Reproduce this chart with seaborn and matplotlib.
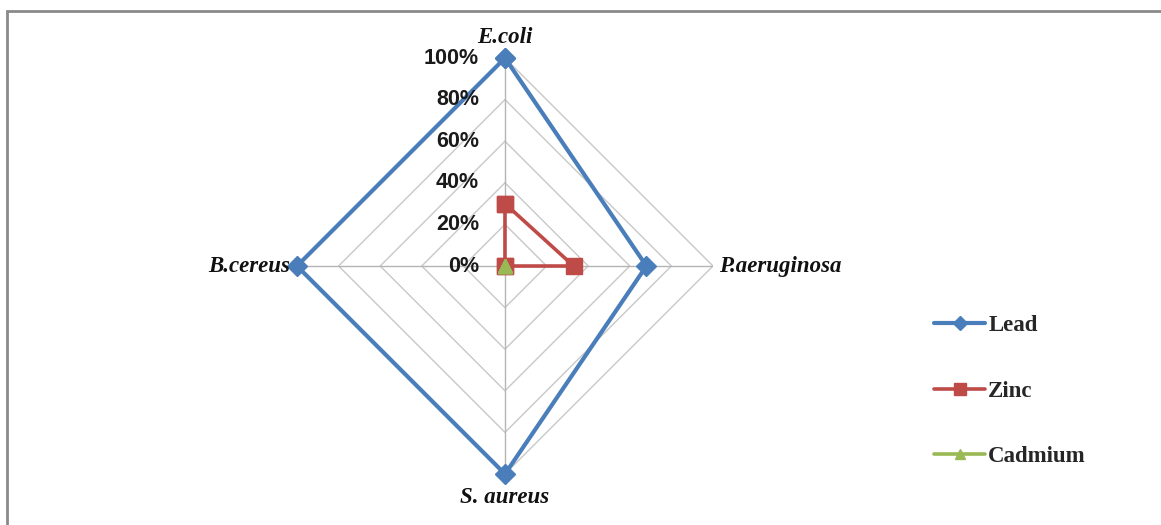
import numpy as np
import seaborn as sns
import matplotlib.pyplot as plt
from matplotlib.patches import Rectangle
from matplotlib.transforms import offset_copy

sns.set_theme(style="white")

categories = ["E.coli", "P.aeruginosa", "S. aureus", "B.cereus"]
lead = [100, 68, 100, 100]
zinc = [30, 33, 0, 0]
cadmium = [0, 0, 0, 0]
rings = [0, 20, 40, 60, 80, 100]
ring_labels = ["0%", "20%", "40%", "60%", "80%", "100%"]

series = {"Lead": lead, "Zinc": zinc, "Cadmium": cadmium}
colors = {"Lead": "#4A7EBB", "Zinc": "#BE4B48", "Cadmium": "#98B954"}
markers = {"Lead": "D", "Zinc": "s", "Cadmium": "^"}
msizes = {"Lead": 10, "Zinc": 12, "Cadmium": 10}

angles = np.linspace(0, 2 * np.pi, len(categories), endpoint=False)
closed = np.append(angles, angles[0])

fig = plt.figure(figsize=(11.61, 5.25), dpi=100)
fig.patches.append(Rectangle((0.006, -0.05), 1.2, 1.05 - 11 / 525, transform=fig.transFigure,
                             fill=False, edgecolor="#8a8a8a", linewidth=2))
ax = fig.add_axes([0.2558, 0.0971, 0.3583, 0.7924], projection="polar")
ax.set_theta_offset(np.pi / 2)
ax.set_theta_direction(-1)
ax.set_ylim(0, 100)
ax.grid(False)
ax.spines["polar"].set_visible(False)
ax.set_xticks([])
ax.set_yticks([])

# polygon gridlines and spokes
for r in rings[1:]:
    ax.plot(closed, [r] * len(closed), color="#c8c8c8", lw=1, zorder=1)
for a in angles:
    ax.plot([a, a], [0, 100], color="#b4b4b4", lw=1, zorder=1)

for name, vals in series.items():
    v = np.append(vals, vals[0])
    ax.plot(closed, v, color=colors[name], lw=3 if name == "Lead" else 2.6,
            marker=markers[name], markersize=msizes[name], label=name,
            zorder=3, clip_on=False)

lab_tr = offset_copy(ax.transData, fig=fig, x=-26, y=0, units="dots")
for r, t in zip(rings, ring_labels):
    ax.text(0, r, t, transform=lab_tr, ha="right", va="center",
            fontsize=15.5, fontweight="bold", family="Liberation Sans", color="#1a1a1a")

cat_font = dict(family="Liberation Serif", fontsize=16.5, fontweight="bold", style="italic", color="#111111")
ax.annotate(categories[0], (angles[0], 100), xytext=(0, 7), textcoords="offset points", ha="center", va="bottom", **cat_font)
ax.annotate(categories[1], (angles[1], 100), xytext=(4, 0), textcoords="offset points", ha="left", va="center", **cat_font)
ax.annotate(categories[2], (angles[2], 100), xytext=(0, -9), textcoords="offset points", ha="center", va="top", **cat_font)
ax.annotate(categories[3], (angles[3], 100), xytext=(-5, 0), textcoords="offset points", ha="right", va="center", **cat_font)

leg = fig.legend(loc="center left", bbox_to_anchor=(0.787, 0.255), frameon=False,
                 labelspacing=1.95, handlelength=2.2, handletextpad=0.15, markerscale=0.7,
                 prop=dict(family="Liberation Serif", weight="bold", size=16.5))

fig.savefig("out.png", dpi=100)
